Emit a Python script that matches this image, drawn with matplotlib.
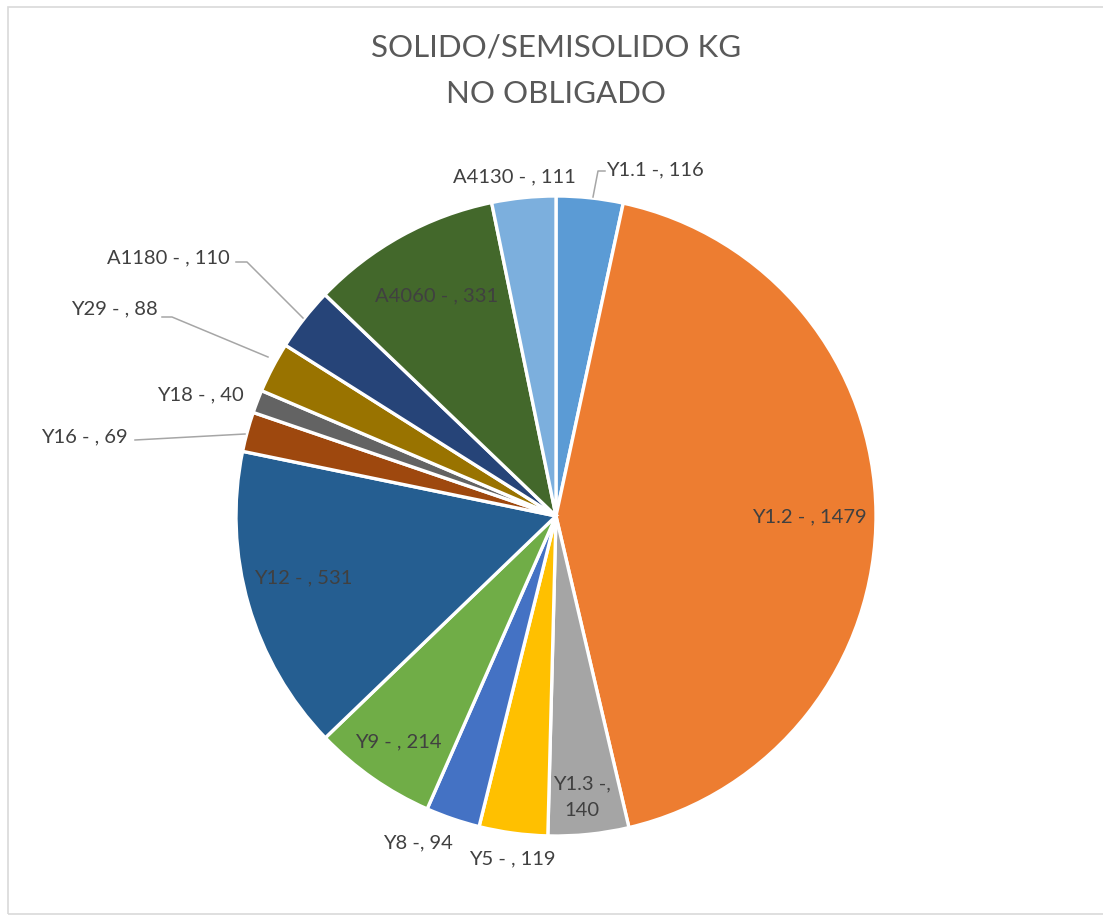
"""Pie chart: SOLIDO/SEMISOLIDO KG - NO OBLIGADO."""

import matplotlib
matplotlib.use("Agg")
import matplotlib.pyplot as plt
from matplotlib.patches import Rectangle

W, H = 1103, 920

categories = ["Y1.1", "Y1.2", "Y1.3", "Y5", "Y8", "Y9", "Y12",
              "Y16", "Y18", "Y29", "A1180", "A4060", "A4130"]
values = [116, 1479, 140, 119, 94, 214, 531, 69, 40, 88, 110, 331, 111]
colors = ["#5B9BD5", "#ED7D31", "#A5A5A5", "#FFC000", "#4472C4", "#70AD47",
          "#255E91", "#9E480E", "#636363", "#997300", "#264478", "#43682B",
          "#7CAFDD"]

# label text for each wedge (Excel style "name -, value")
label_text = [f"{c} -, {v}" if c in ("Y1.1", "Y8") else f"{c} - , {v}"
              for c, v in zip(categories, values)]
label_text[2] = "Y1.3 -,\n140"

# label placement in pixels (x, y from top) and alignment
label_pos = {
    "Y1.1": (606, 170, "left"), "Y1.2": (809, 517, "center"),
    "Y1.3": (582, 797, "center"), "Y5": (512, 859, "center"),
    "Y8": (418, 843, "center"), "Y9": (398, 742, "center"),
    "Y12": (303, 578, "center"), "Y16": (128, 437, "right"),
    "Y18": (244, 395, "right"), "Y29": (158, 309, "right"),
    "A1180": (230, 258, "right"), "A4060": (437, 296, "center"),
    "A4130": (576, 177, "right"),
}
# leader lines (pixels from top)
leaders = {
    "Y1.1": [(593, 198), (598, 172), (605, 172)],
    "Y16": [(245, 435), (135, 441)],
    "Y29": [(268, 358), (172, 318), (162, 318)],
    "A1180": [(303, 319), (247, 263), (236, 263)],
}

plt.rcParams["font.family"] = ["Lato", "DejaVu Sans"]

fig = plt.figure(figsize=(W / 100, H / 100), dpi=100)
ax = fig.add_axes([0, 0, 1, 1])

fig.patches.append(Rectangle((8 / W, 5 / H), 1.2, (H - 13) / H,
                             transform=fig.transFigure, fill=False,
                             edgecolor="#D9D9D9", linewidth=1.2))

cx, cy, r = 556, 517, 320
ax.pie(values, colors=colors, startangle=90, counterclock=False,
       center=(cx, H - cy), radius=r,
       wedgeprops=dict(edgecolor="white", linewidth=2.4))
ax.set_xlim(0, W)
ax.set_ylim(0, H)
ax.set_aspect("equal")
ax.axis("off")

for cat, txt in zip(categories, label_text):
    x, y, ha = label_pos[cat]
    ax.text(x, H - y, txt, ha=ha, va="center", fontsize=14.5,
            color="#404040", linespacing=1.65)

for cat, pts in leaders.items():
    ax.plot([p[0] for p in pts], [H - p[1] for p in pts],
            color="#A6A6A6", linewidth=1.1)

ax.text(556, H - 48, "SOLIDO/SEMISOLIDO KG", ha="center", va="center",
        fontsize=22.5, color="#595959")
ax.text(556, H - 94, "NO OBLIGADO", ha="center", va="center",
        fontsize=22.5, color="#595959")

fig.savefig("out.png", dpi=100)
